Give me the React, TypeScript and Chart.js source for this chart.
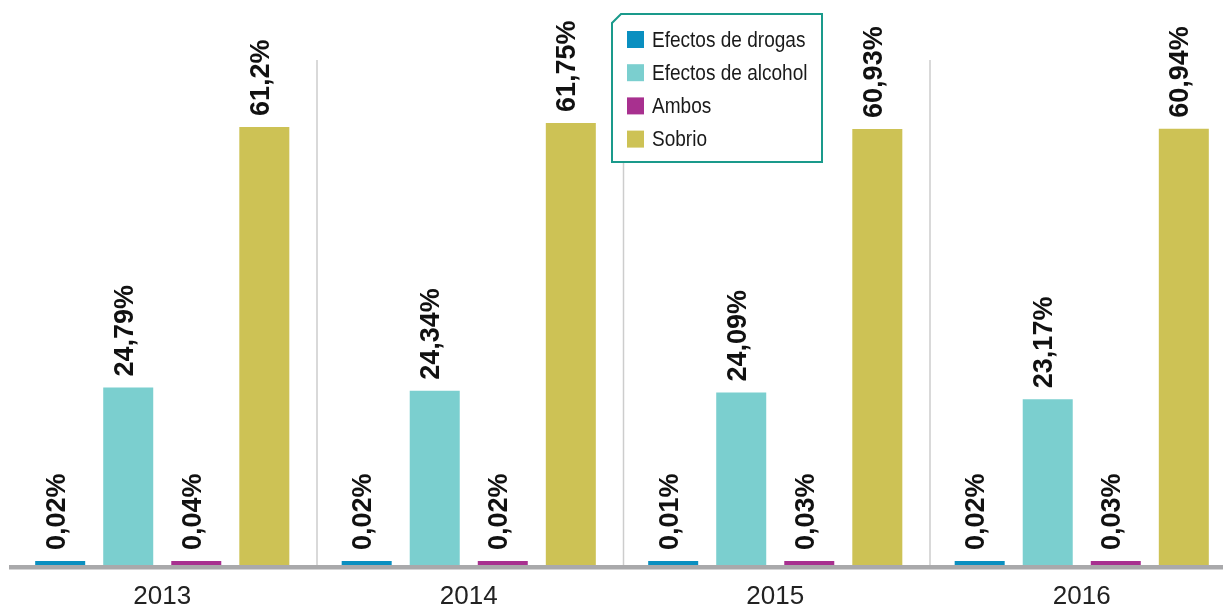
import React, { useEffect, useRef } from "react";
import { Chart, registerables } from "chart.js";

Chart.register(...registerables);

const years = ["2013", "2014", "2015", "2016"];
const seriesNames = ["Efectos de drogas", "Efectos de alcohol", "Ambos", "Sobrio"];
const drogas = [0.02, 0.02, 0.01, 0.02];
const alcohol = [24.79, 24.34, 24.09, 23.17];
const ambos = [0.04, 0.02, 0.03, 0.03];
const sobrio = [61.2, 61.75, 60.93, 60.94];
const colors = ["#0a8fc0", "#7bcfcf", "#a8308f", "#cdc255"];

const fmt = (v: number) => String(v).replace(".", ",") + "%";

const decorPlugin = {
  id: "decor",
  beforeDatasetsDraw(chart: any) {
    const { ctx, chartArea, scales } = chart;
    const x = scales.x;
    ctx.save();
    // vertical separators between year groups
    ctx.strokeStyle = "#cdcdcd";
    ctx.lineWidth = 1.5;
    for (let i = 0; i < years.length - 1; i++) {
      const px = (x.getPixelForValue(i) + x.getPixelForValue(i + 1)) / 2 + 1.5;
      ctx.beginPath();
      ctx.moveTo(px, 60);
      ctx.lineTo(px, chartArea.bottom);
      ctx.stroke();
    }
    // thick base axis line
    ctx.fillStyle = "#a9a9ab";
    ctx.fillRect(chartArea.left, chartArea.bottom, chart.width - chartArea.left, 4.5);
    ctx.restore();
  },
  afterDatasetsDraw(chart: any) {
    const { ctx } = chart;
    ctx.save();
    ctx.fillStyle = "#111";
    ctx.font = "bold 27px 'Liberation Sans', Arial, sans-serif";
    ctx.textAlign = "left";
    ctx.textBaseline = "alphabetic";
    chart.data.datasets.forEach((ds: any, i: number) => {
      const meta = chart.getDatasetMeta(i);
      meta.data.forEach((bar: any, j: number) => {
        ctx.save();
        ctx.translate(bar.x + 4.5, bar.y - 11);
        ctx.rotate(-Math.PI / 2);
        ctx.fillText(fmt(ds.data[j]), 0, 0);
        ctx.restore();
      });
    });
    ctx.restore();
  },
  afterDraw(chart: any) {
    const { ctx } = chart;
    const L = 612, T = 14, R = 822, B = 162, cut = 9;
    ctx.save();
    ctx.fillStyle = "#ffffff";
    ctx.strokeStyle = "#1a9a8b";
    ctx.lineWidth = 2;
    ctx.beginPath();
    ctx.moveTo(L + cut, T);
    ctx.lineTo(R, T);
    ctx.lineTo(R, B);
    ctx.lineTo(L, B);
    ctx.lineTo(L, T + cut);
    ctx.closePath();
    ctx.fill();
    ctx.stroke();
    ctx.font = "22px 'Liberation Sans', Arial, sans-serif";
    ctx.textBaseline = "middle";
    ctx.textAlign = "left";
    seriesNames.forEach((name, i) => {
      const cy = 39.5 + i * 33.2;
      ctx.fillStyle = colors[i];
      ctx.fillRect(627, cy - 8.5, 17, 17);
      ctx.fillStyle = "#1a1a1a";
      ctx.save();
      ctx.translate(652, cy + 1);
      ctx.scale(0.865, 1);
      ctx.fillText(name, 0, 0);
      ctx.restore();
    });
    ctx.restore();
  },
};

export default function App() {
  const ref = useRef<HTMLCanvasElement | null>(null);
  useEffect(() => {
    if (!ref.current) return;
    const series = [drogas, alcohol, ambos, sobrio];
    const chart = new Chart(ref.current, {
      type: "bar",
      data: {
        labels: years,
        datasets: series.map((d, i) => ({
          label: seriesNames[i],
          data: d,
          backgroundColor: colors[i],
          borderWidth: 0,
          categoryPercentage: 0.888,
          barPercentage: 0.735,
          minBarLength: 4,
        })),
      },
      options: {
        responsive: false,
        maintainAspectRatio: false,
        animation: false,
        layout: { padding: { left: 9, right: 5, top: 64, bottom: 0 } },
        plugins: { legend: { display: false }, tooltip: { enabled: false } },
        scales: {
          x: {
            grid: { display: false },
            border: { display: false },
            ticks: {
              color: "#222",
              padding: 8,
              font: { family: "'Liberation Sans', Arial, sans-serif", size: 26 },
            },
            afterFit: (s: any) => {
              s.height = 41;
            },
          },
          y: { display: false, min: 0, max: 70 },
        },
      },
      plugins: [decorPlugin],
    });
    return () => chart.destroy();
  }, []);
  return (
    <div
      style={{
        position: "absolute",
        left: 0,
        top: 0,
        width: 1223,
        height: 606,
        overflow: "hidden",
        background: "#fff",
      }}
    >
      <canvas ref={ref} width={1240} height={606} style={{ width: 1240, height: 606, display: "block" }} />
    </div>
  );
}
